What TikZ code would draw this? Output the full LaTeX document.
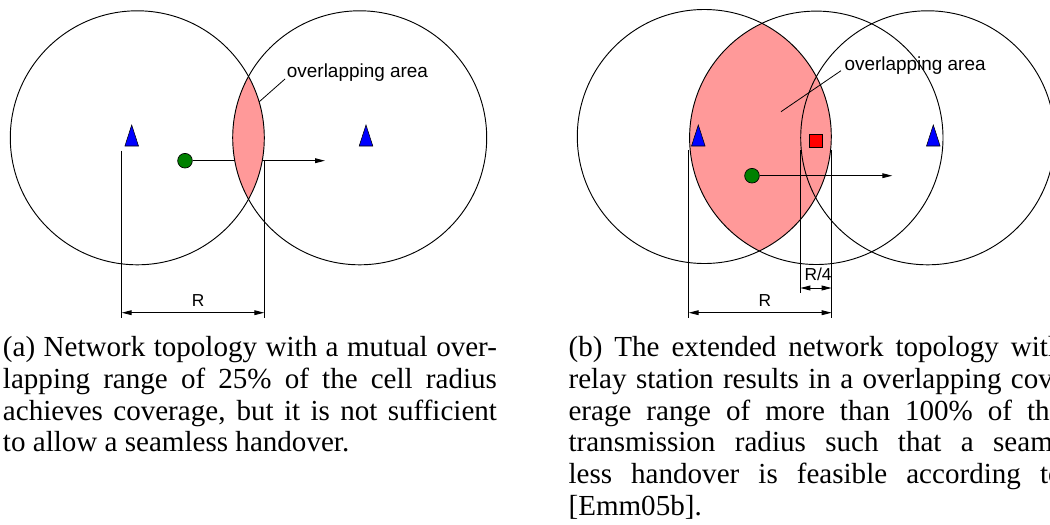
\documentclass[tikz,border=0pt]{standalone}
\usepackage{fontspec}
\newfontfamily\labelfont{Liberation Sans}
\newfontfamily\capserif{Liberation Serif}
\usetikzlibrary{arrows.meta}
\definecolor{lenspink}{RGB}{255,153,153}
\definecolor{dotgreen}{RGB}{0,128,0}
\newcommand{\capfont}{\capserif\fontsize{21.8}{25}\selectfont}
\newcommand{\jline}[1]{\makebox[370.5pt][s]{#1}}
\tikzset{
  cell/.style={draw=black, line width=0.7pt},
  bs/.style={draw=black, fill=blue, line width=0.4pt},
  bstri/.pic={\path[bs] (0,0) -- (6.8,21) -- (-6.8,21) -- cycle;},
  ms/.style={circle, draw=black, fill=dotgreen, minimum size=11pt, inner sep=0pt, line width=0.5pt},
  rs/.style={rectangle, draw=black, fill=red, minimum size=9.75pt, inner sep=0pt, line width=0.5pt},
  dimline/.style={line width=0.7pt},
  mytip/.tip={Triangle[length=7.5pt,width=3.6pt]},
  dimarrow/.style={mytip-mytip, line width=0.7pt},
  moveto/.style={-mytip, line width=0.7pt},
  leader/.style={line width=0.6pt},
  lbl/.style={font=\labelfont\fontsize{14.2}{16}\selectfont, inner sep=0pt, anchor=base west},
  rlbl/.style={font=\labelfont\fontsize{13}{15}\selectfont, inner sep=0pt, anchor=base},
  captxt/.style={anchor=base west, inner sep=0pt, font=\capfont},
}
\begin{document}
\begin{tikzpicture}[x=0.75pt,y=-0.75pt]
\useasboundingbox (0,0) rectangle (1050,525);
\clip (0,0) rectangle (1050,525);
% ---------------- left diagram ----------------
\coordinate (LC1) at (137.3,137.8);
\coordinate (LC2) at (359.7,137.8);
% dimension
\coordinate (LD1t) at (121.7,150.7);
\coordinate (LD1b) at (121.7,318);
\coordinate (LD2t) at (264.3,160.7);
\coordinate (LD2b) at (264.3,318);
\coordinate (LA1) at (121.7,312.7);
\coordinate (LA2) at (264.3,312.7);
\draw[dimline] (LD1t) -- (LD1b);
\draw[dimline] (LD2t) -- (LD2b);
\draw[dimarrow] (LA1) -- (LA2);
\node[rlbl] (LR) at (198.2,306) {R};
% mobile station + movement
\node[ms] (LMS) at (185,160.7) {};
\coordinate (LMT) at (325,160.7);
\draw[moveto] (LMS.east) -- (LMT);
% lens
\begin{scope}
  \clip (LC1) circle (127);
  \fill[lenspink] (LC2) circle (127);
\end{scope}
\draw[cell] (LC1) circle (127);
\draw[cell] (LC2) circle (127);
\pic at (131.7,125) {bstri};
\pic at (366,125) {bstri};
% label
\node[lbl] (LOA) at (286.7,77.3) {overlapping area};
\coordinate (LOAp) at (259.3,101.7);
\draw[leader] (285,79) -- (LOAp);
% ---------------- right diagram ----------------
\coordinate (RC1) at (704.3,136.5);
\coordinate (RC2) at (816.3,137.8);
\coordinate (RC3) at (927.7,137.8);
\begin{scope}
  \clip (RC1) circle (127);
  \fill[lenspink] (RC2) circle (126.7);
\end{scope}
\draw[cell] (RC1) circle (127);
\draw[cell] (RC2) circle (126.7);
\draw[cell] (RC3) circle (127);
% dimension lines
\coordinate (RD1t) at (688.7,150);
\coordinate (RD1b) at (688.7,318);
\coordinate (RD2t) at (831.7,150);
\coordinate (RD2b) at (831.7,318);
\coordinate (RD3t) at (800.3,150);
\coordinate (RD3b) at (800.3,293);
\draw[dimline] (RD1t) -- (RD1b);
\draw[dimline] (RD2t) -- (RD2b);
\draw[dimline] (RD3t) -- (RD3b);
\coordinate (RA1) at (688.7,312.7);
\coordinate (RA2) at (831.7,312.7);
\coordinate (RA3) at (800.3,288);
\coordinate (RA4) at (831.7,288);
\draw[dimarrow] (RA1) -- (RA2);
\draw[dimarrow] (RA3) -- (RA4);
\node[rlbl] (RR) at (765,306) {R};
\node[rlbl] (RR4) at (818,280) {R/4};
% stations
\pic at (698.3,125) {bstri};
\pic at (933.3,125) {bstri};
\node[rs] (RS) at (815.8,140.8) {};
\node[ms] (RMS) at (752,175.7) {};
\coordinate (RMT) at (892.3,175.7);
\draw[moveto] (RMS.east) -- (RMT);
% label
\node[lbl] (ROA) at (844.3,70.7) {overlapping area};
\coordinate (ROAp) at (781,111.7);
\draw[leader] (841,70.7) -- (ROAp);
% ---------------- captions ----------------
\node[captxt] (ca1) at (2.7,356.7) {\jline{(a) Network topology with a mutual over-}};
\node[captxt] (ca2) at (2.7,388.4) {\jline{lapping range of 25\% of the cell radius}};
\node[captxt] (ca3) at (2.7,420.1) {\jline{achieves coverage, but it is not sufficient}};
\node[captxt] (ca4) at (2.7,451.8) {to allow a seamless handover.};
\node[captxt] (cb1) at (568.3,356.7) {\jline{(b) The extended network topology with}};
\node[captxt] (cb2) at (568.3,388.4) {\jline{relay station results in a overlapping cov-}};
\node[captxt] (cb3) at (568.3,420.1) {\jline{erage range of more than 100\% of the}};
\node[captxt] (cb4) at (568.3,451.8) {\jline{transmission radius such that a seam-}};
\node[captxt] (cb5) at (568.3,483.5) {\jline{less handover is feasible according to}};
\node[captxt] (cb6) at (568.3,515.2) {[Emm05b].};
\end{tikzpicture}
\end{document}
